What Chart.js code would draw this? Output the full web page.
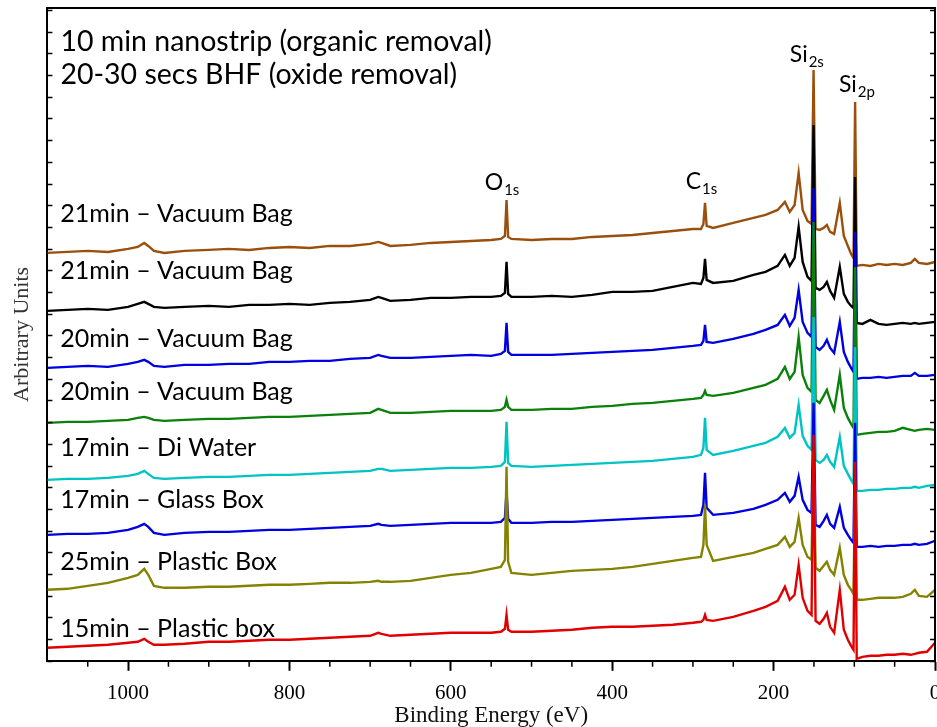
<!DOCTYPE html>
<html>
<head>
<meta charset="utf-8">
<title>XPS survey spectra</title>
<script src="https://cdn.jsdelivr.net/npm/chart.js@4.4.0/dist/chart.umd.min.js"></script>
<style>
  html, body { margin: 0; padding: 0; background: #fff; }
  #wrap { width: 937px; height: 727px; }
</style>
</head>
<body>
<div id="wrap"><canvas id="xps" width="937" height="727"></canvas></div>
<script>
// binding energy (eV) of the sampled points, high to low
const bindingEnergy = [
  1100, 1075, 1050, 1025, 1000, 988, 980, 975, 968, 955,
  930, 900, 875, 850, 825, 800, 775, 750, 725, 700,
  690, 686, 675, 650, 625, 600, 575, 550, 538, 533,
  531, 529, 525, 500, 475, 450, 425, 400, 375, 350,
  325, 300, 290, 287, 285, 283, 275, 250, 225, 210,
  195, 186, 180, 174, 169, 164, 158, 153, 150.5, 148,
  143, 138, 134, 130, 125, 118, 113, 108, 104, 101,
  99, 97, 90, 80, 70, 60, 50, 40, 30, 25,
  20, 10, 0
];

// intensities (arbitrary units, already offset so the traces stack)
const vac21a = [
  408, 409, 410, 409, 412, 414, 418, 415, 410, 408,
  410, 411, 412, 411, 413, 414, 413, 415, 415, 417,
  419, 418, 415, 416, 418, 419, 420, 421, 422, 425,
  461, 424, 422, 421, 422, 422, 424, 425, 426, 428,
  430, 432, 432, 437, 458, 435, 433, 438, 443, 446,
  451, 459, 449, 456, 488, 451, 440, 437, 591, 432,
  431, 433, 436, 429, 427, 458, 425, 415, 407, 403,
  559, 395, 396, 395, 397, 396, 397, 396, 398, 402,
  398, 397, 399
];
const vac21b = [
  350, 351, 352, 351, 354, 357, 359, 357, 354, 353,
  354, 355, 354, 356, 356, 357, 356, 358, 359, 361,
  364, 363, 360, 361, 363, 363, 364, 364, 365, 368,
  399, 367, 364, 364, 365, 364, 366, 369, 369, 370,
  374, 378, 377, 383, 402, 381, 378, 380, 386, 389,
  395, 406, 395, 403, 434, 399, 384, 380, 536, 373,
  371, 374, 379, 370, 363, 394, 367, 359, 355, 353,
  484, 338, 337, 341, 337, 336, 337, 338, 337, 338,
  337, 338, 339
];
const vac20a = [
  293, 294, 295, 294, 297, 299, 301, 299, 295, 294,
  296, 296, 297, 297, 299, 299, 300, 300, 302, 303,
  306, 305, 303, 303, 304, 305, 306, 305, 307, 310,
  338, 309, 306, 306, 306, 307, 308, 309, 310, 311,
  313, 315, 316, 320, 336, 319, 318, 322, 327, 331,
  336, 346, 335, 343, 371, 339, 328, 324, 473, 314,
  311, 315, 321, 313, 308, 339, 309, 299, 293, 289,
  429, 282, 283, 283, 284, 283, 284, 285, 285, 288,
  285, 285, 286
];
const vac20b = [
  238, 239, 239, 240, 241, 243, 244, 243, 241, 240,
  241, 242, 242, 243, 244, 244, 245, 246, 247, 248,
  252, 251, 248, 248, 249, 250, 250, 250, 251, 254,
  261, 254, 251, 251, 252, 252, 254, 255, 257, 258,
  260, 262, 263, 266, 270, 266, 265, 268, 273, 276,
  282, 294, 282, 289, 324, 286, 273, 269, 439, 261,
  258, 265, 271, 261, 251, 286, 253, 243, 237, 233,
  394, 226, 227, 228, 229, 229, 230, 233, 231, 230,
  231, 232, 231
];
const diWater17 = [
  181, 182, 182, 183, 185, 187, 190, 187, 183, 182,
  183, 184, 184, 185, 186, 186, 187, 188, 189, 190,
  192, 192, 190, 191, 192, 193, 193, 194, 195, 199,
  239, 198, 195, 194, 195, 196, 197, 198, 199, 200,
  202, 204, 206, 213, 243, 211, 206, 210, 215, 218,
  224, 233, 223, 228, 256, 225, 215, 211, 344, 201,
  198, 201, 206, 199, 194, 224, 195, 187, 181, 177,
  314, 170, 170, 171, 171, 172, 172, 173, 173, 174,
  173, 175, 176
];
const glassBox17 = [
  126, 127, 127, 128, 131, 134, 137, 134, 128, 126,
  128, 129, 129, 130, 131, 131, 132, 133, 134, 135,
  137, 136, 135, 136, 137, 138, 138, 138, 139, 143,
  169, 142, 138, 138, 139, 139, 140, 141, 142, 143,
  144, 145, 146, 156, 188, 153, 146, 148, 152, 156,
  161, 168, 159, 165, 184, 161, 151, 148, 258, 136,
  134, 140, 146, 137, 133, 154, 133, 126, 121, 118,
  238, 114, 114, 115, 114, 115, 115, 116, 116, 117,
  116, 117, 120
];
const plasticBox25 = [
  71, 72, 75, 78, 83, 86, 92, 86, 75, 73,
  73, 74, 74, 75, 76, 76, 77, 78, 78, 79,
  80, 79, 79, 80, 83, 86, 88, 92, 94, 101,
  194, 99, 88, 86, 88, 90, 91, 92, 94, 97,
  100, 103, 104, 116, 156, 116, 100, 104, 108, 112,
  116, 124, 114, 119, 143, 116, 104, 101, 211, 93,
  90, 95, 99, 91, 86, 113, 86, 76, 71, 67,
  181, 61, 61, 62, 63, 63, 63, 64, 67, 71,
  65, 64, 71
];
const plasticBox15 = [
  13, 14, 15, 16, 18, 19, 22, 19, 16, 16,
  17, 19, 19, 20, 21, 21, 22, 23, 24, 25,
  28, 27, 25, 26, 27, 28, 28, 28, 29, 32,
  46, 31, 29, 29, 30, 31, 33, 34, 34, 35,
  36, 38, 39, 41, 46, 41, 40, 44, 50, 54,
  60, 74, 61, 66, 96, 63, 50, 46, 226, 40,
  37, 42, 48, 34, 28, 71, 31, 21, 15, 11,
  199, 2, 4, 5, 5, 6, 6, 7, 6, 7,
  8, 9, 18
];

const seriesNames = [
  '21min \u2013 Vacuum Bag', '21min \u2013 Vacuum Bag',
  '20min \u2013 Vacuum Bag', '20min \u2013 Vacuum Bag',
  '17min \u2013 Di Water', '17min \u2013 Glass Box',
  '25min \u2013 Plastic Box', '15min \u2013 Plastic box'
];
const seriesValues = [vac21a, vac21b, vac20a, vac20b, diWater17, glassBox17, plasticBox25, plasticBox15];
const seriesColors = ['#9a4f0c', '#000000', '#0000e0', '#0b800b', '#00c4c4', '#0000e0', '#838300', '#e00000'];

// where each trace name sits: [binding energy, intensity] of the text baseline
const nameAnchors = [[1084, 439], [1084, 382], [1084, 314], [1084, 261], [1084, 205], [1084, 153], [1084, 91], [1084, 24]];

// core level labels with subscripts
const peakLabels = [
  { main: 'O',  sub: '1s', at: [558, 471] },
  { main: 'C',  sub: '1s', at: [309, 472] },
  { main: 'Si', sub: '2s', at: [180, 599] },
  { main: 'Si', sub: '2p', at: [119, 569] }
];

const headerLines = ['10 min nanostrip (organic removal)', '20-30 secs BHF (oxide removal)'];

const textFont = 'Lato, "Noto Sans", sans-serif';
const axisFont = '"Liberation Serif", "DejaVu Serif", serif';
const yTickStep = 21.7;

const datasets = seriesValues.map((vals, i) => ({
  label: seriesNames[i],
  data: bindingEnergy.map((e, j) => ({ x: e, y: vals[j] })),
  borderColor: seriesColors[i],
  backgroundColor: seriesColors[i],
  borderWidth: 2.4,
  pointRadius: 0,
  tension: 0,
  // lower traces are painted over the upper ones
  order: seriesValues.length - 1 - i
}));

// box outline, inward ticks on the sides and minor ticks under the x axis
const framePlugin = {
  id: 'frame',
  afterDraw(chart) {
    const { ctx, chartArea: a, scales: { x, y } } = chart;
    ctx.save();
    ctx.strokeStyle = '#000';
    ctx.lineWidth = 2;
    ctx.beginPath();
    ctx.moveTo(a.left, a.top);
    ctx.lineTo(a.right, a.top);
    ctx.lineTo(a.right, a.bottom);
    ctx.stroke();

    ctx.lineWidth = 1.5;
    ctx.beginPath();
    for (let v = 0; v <= y.max; v += yTickStep) {
      const py = Math.round(y.getPixelForValue(v)) + 0.5;
      ctx.moveTo(a.left, py); ctx.lineTo(a.left + 5, py);
      ctx.moveTo(a.right, py); ctx.lineTo(a.right - 5, py);
    }
    for (let ev = 50; ev < x.max; ev += 50) {
      if (ev % 200 === 0) continue;
      const px = x.getPixelForValue(ev);
      ctx.moveTo(px, a.bottom); ctx.lineTo(px, a.bottom + 6);
    }
    ctx.stroke();
    ctx.restore();
  }
};

const labelPlugin = {
  id: 'spectrumLabels',
  afterDraw(chart) {
    const { ctx, chartArea: a, scales: { x, y } } = chart;
    ctx.save();
    ctx.fillStyle = '#000';
    ctx.textAlign = 'left';
    ctx.textBaseline = 'alphabetic';

    ctx.font = '28.5px ' + textFont;
    headerLines.forEach((t, i) => ctx.fillText(t, a.left + 13, a.top + 43 + i * 33));

    ctx.font = '25px ' + textFont;
    seriesNames.forEach((t, i) => {
      const [e, v] = nameAnchors[i];
      ctx.fillText(t, x.getPixelForValue(e), y.getPixelForValue(v));
    });

    peakLabels.forEach(p => {
      const px = x.getPixelForValue(p.at[0]);
      const py = y.getPixelForValue(p.at[1]);
      ctx.font = '23px ' + textFont;
      ctx.fillText(p.main, px, py);
      const w = ctx.measureText(p.main).width;
      ctx.font = '15px ' + textFont;
      ctx.fillText(p.sub, px + w + 1, py + 5);
    });
    ctx.restore();
  }
};

new Chart(document.getElementById('xps'), {
  type: 'line',
  data: { datasets },
  options: {
    responsive: false,
    animation: false,
    devicePixelRatio: 1,
    layout: { padding: { left: 9, top: 8, right: 2, bottom: 0 } },
    plugins: { legend: { display: false }, tooltip: { enabled: false } },
    scales: {
      x: {
        type: 'linear',
        reverse: true,
        min: 0,
        max: 1100,
        afterFit(axis) { axis.paddingLeft = 0; axis.paddingRight = 0; },
        ticks: {
          stepSize: 200,
          includeBounds: false,
          maxRotation: 0,
          padding: 10,
          color: '#000',
          font: { family: axisFont, size: 21 },
          callback: v => String(v)
        },
        grid: {
          drawOnChartArea: false,
          drawTicks: true,
          tickLength: 10,
          tickWidth: 2,
          tickColor: '#000'
        },
        border: { display: true, color: '#000', width: 2 },
        title: {
          display: true,
          text: 'Binding Energy (eV)',
          color: '#111',
          font: { family: axisFont, size: 23, lineHeight: 1 },
          padding: { top: -12, bottom: 0 }
        }
      },
      y: {
        min: 0,
        max: 653,
        ticks: { display: false },
        grid: { display: false, drawTicks: false },
        border: { display: true, color: '#000', width: 2 },
        title: {
          display: true,
          text: 'Arbitrary Units',
          color: '#333',
          font: { family: axisFont, size: 22 },
          padding: { top: 0, bottom: 12 }
        }
      }
    }
  },
  plugins: [framePlugin, labelPlugin]
});
</script>
</body>
</html>
